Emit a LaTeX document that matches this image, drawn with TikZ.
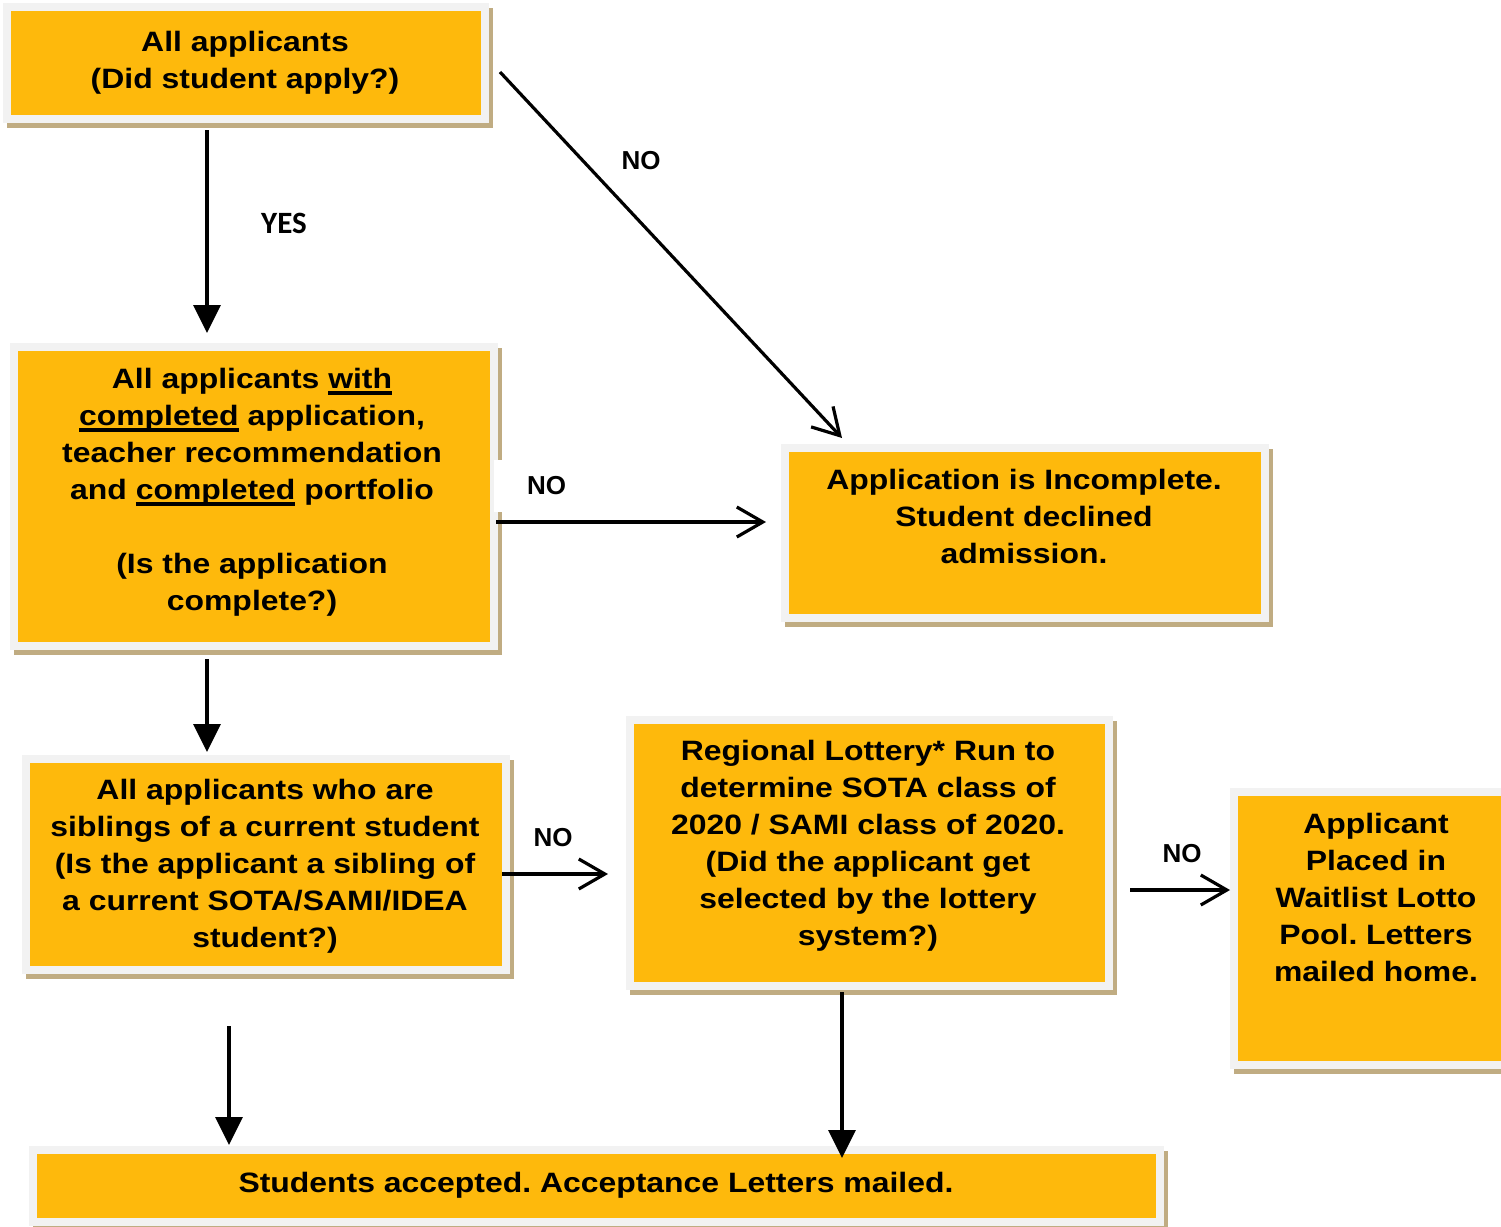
\documentclass[tikz,border=0pt]{standalone}
\usepackage{fontspec}
\setmainfont{Liberation Sans}[FakeStretch=1.14]
\newfontfamily\plainsans{Liberation Sans}
\newfontfamily\yesfont{Carlito}
\usetikzlibrary{arrows.meta}
\definecolor{boxfill}{RGB}{254,185,12}
\definecolor{framegray}{RGB}{242,242,242}
\definecolor{shadowtan}{RGB}{192,172,130}
\newcommand\myul[1]{\setbox0\hbox{#1}\rlap{\rule[-6.5pt]{\wd0}{4pt}}\box0\relax}
\frenchspacing
\begin{document}
\begin{tikzpicture}[x=1pt,y=-1pt,
 box/.style={draw=framegray, fill=boxfill, line width=8pt, inner sep=0pt, outer sep=0pt,
   preaction={draw=shadowtan, line width=8pt, transform canvas={xshift=3.5pt,yshift=-5pt}}},
 txt/.style={align=center, font=\fontsize{28}{37}\selectfont\bfseries, inner sep=0pt},
 lbl/.style={font=\plainsans\fontsize{26}{30}\selectfont\bfseries, inner sep=0pt},
 fa/.style={line width=3.2pt, -{Triangle[length=28pt,width=27pt]}},
 oa/.style={line width=3.2pt, -{Straight Barb[length=26pt,width=30pt]}}]
\path[use as bounding box] (0,0) rectangle (1501,1226);
\clip (0,0) rectangle (1501,1226);
% boxes
\node[box, minimum width=478pt, minimum height=112pt] (b1) at (246,63) {};
\node[box, minimum width=480pt, minimum height=299pt] (b2) at (254,496.5) {};
\node[box, minimum width=480pt, minimum height=170pt] (b3) at (1025,533) {};
\node[box, minimum width=480pt, minimum height=211pt] (b4) at (266,864.5) {};
\node[box, minimum width=479pt, minimum height=266pt] (b5) at (869.5,853) {};
\node[box, minimum width=300pt, minimum height=273pt] (b6) at (1384,928.5) {};
\node[box, minimum width=1127pt, minimum height=72pt] (b7) at (596.5,1186) {};
% texts
\node[txt] (t1) at (245,63) {All applicants\\(Did student apply?)};
\node[txt] (t2) at (252,492) {All applicants \myul{with}\\\myul{completed} application,\\teacher recommendation\\and \myul{completed} portfolio\\[37pt](Is the application\\complete?)};
\node[txt] (t3) at (1024,516) {Application is Incomplete.\\Student declined\\admission.};
\node[txt] (t4) at (265,866) {All applicants who are\\siblings of a current student\\(Is the applicant a sibling of\\a current SOTA/SAMI/IDEA\\student?)};
\node[txt] (t5) at (868,846) {Regional Lottery* Run to\\determine SOTA class of\\2020 / SAMI class of 2020.\\(Did the applicant get\\selected by the lottery\\system?)};
\node[txt] (t6) at (1376,897) {Applicant\\Placed in\\Waitlist Lotto\\Pool. Letters\\mailed home.};
\node[txt] (t7) at (596,1185) {Students accepted. Acceptance Letters mailed.};
% connectors
\draw[fa] ([shift={(-39,11)}]b1.south) -- ([shift={(-47,-14)}]b2.north);
\draw[oa] ([shift={(15,9)}]b1.east) -- ([shift={(-183,-10)}]b3.north);
\draw[oa] ([shift={(2,25.5)}]b2.east) -- ([shift={(-19,-11)}]b3.west);
\draw[fa] ([shift={(-47,13)}]b2.south) -- ([shift={(-59,-7)}]b4.north);
\draw[oa] ([shift={(-4,9.5)}]b4.east) -- ([shift={(-22,21)}]b5.west);
\draw[oa] ([shift={(21,37)}]b5.east) -- ([shift={(-4,-38.5)}]b6.west);
\draw[fa] ([shift={(-37,56)}]b4.south) -- ([shift={(-367.5,-5)}]b7.north);
\draw[fa] ([shift={(-27.5,6)}]b5.south) -- ([shift={(245.5,8)}]b7.north);
% labels
\node[font=\yesfont\fontsize{31}{34}\selectfont\bfseries, inner sep=0pt] (l1) at (284,223) {YES};
\node[lbl] (l2) at (641,161) {NO};
\node[lbl, fill=white, minimum width=106pt, minimum height=52pt] (l3) at (546.5,486) {NO};
\node[lbl] (l4) at (553,838) {NO};
\node[lbl] (l5) at (1182,854) {NO};
\end{tikzpicture}
\end{document}
